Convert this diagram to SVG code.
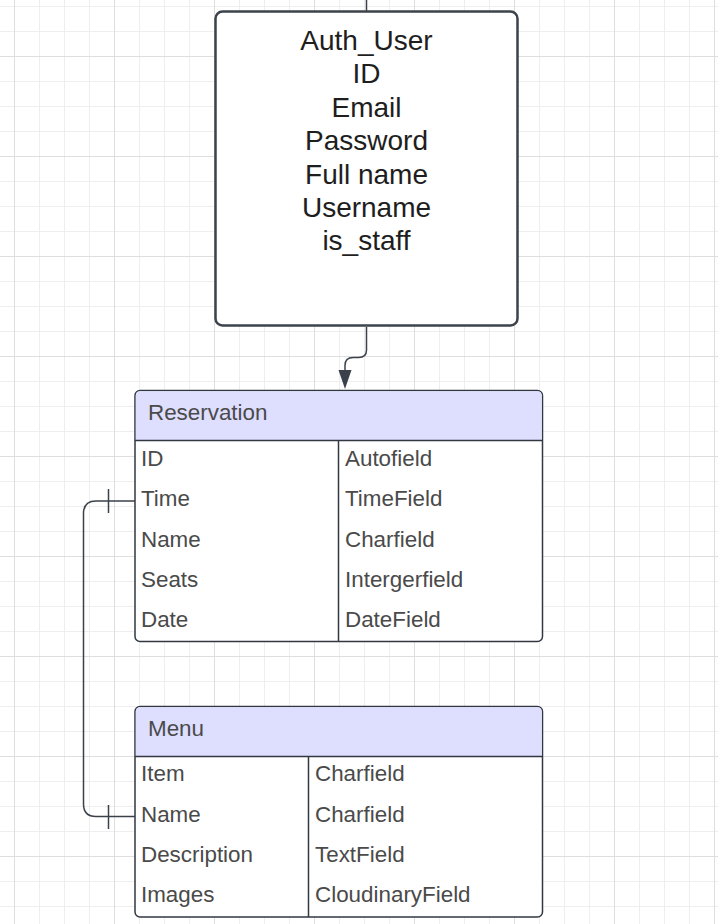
<svg xmlns="http://www.w3.org/2000/svg" width="718" height="924" viewBox="0 0 718 924">
<style>
.auth{font-family:"Liberation Sans",Arial,sans-serif;font-size:28px;fill:#1e1e1e;text-anchor:middle}
.t{font-family:"Liberation Sans",Arial,sans-serif;font-size:22.4px;fill:#4a4a4a}
.box{fill:#ffffff;stroke:#323842;stroke-width:1.5}
.hdr{fill:#dedeff}
.ln{fill:none;stroke:#323842;stroke-width:1.5}
.conn{fill:none;stroke:#3a414a;stroke-width:1.5}
</style>
<defs>
<pattern id="minor" width="25" height="25" patternUnits="userSpaceOnUse" x="14" y="6">
<path d="M0.5 0V25M0 0.5H25" stroke="#eeeeee" stroke-width="1" fill="none"/>
</pattern>
<pattern id="major" width="100" height="100" patternUnits="userSpaceOnUse" x="14" y="56">
<path d="M0.5 0V100M0 0.5H100" stroke="#dedede" stroke-width="1" fill="none"/>
</pattern>
</defs>
<rect width="718" height="924" fill="#ffffff"/>
<rect width="718" height="924" fill="url(#minor)"/>
<rect width="718" height="924" fill="url(#major)"/>

<g id="connectors">
<path class="conn" d="M366.5 0V11"/>
<path class="conn" d="M366.5 327V350Q366.5 357.5 358.5 357.5H353Q345 357.5 345 365.5V372"/>
<polygon points="345,389 338.5,370 351.5,370" fill="#3a414a"/>
<path class="conn" d="M135 501H96Q83.5 501 83.5 513.5V804Q83.5 816.5 96 816.5H135"/>
<path class="conn" d="M108.5 489V513M108.5 805V829"/>
</g>

<g id="auth_user">
<rect x="215.5" y="11.5" width="302" height="314" rx="7" fill="#ffffff" stroke="#3d434b" stroke-width="2.5"/>
<text class="auth" x="366.5" y="49.5">Auth_User</text>
<text class="auth" x="366.5" y="83">ID</text>
<text class="auth" x="366.5" y="116.5">Email</text>
<text class="auth" x="366.5" y="150">Password</text>
<text class="auth" x="366.5" y="183.5">Full name</text>
<text class="auth" x="366.5" y="217">Username</text>
<text class="auth" x="366.5" y="250">is_staff</text>
</g>

<g id="reservation">
<rect class="box" x="135" y="390.5" width="407.5" height="251" rx="5"/>
<path class="hdr" d="M140 391.2H537.5Q541.8 391.2 541.8 395.5V440H135.8V395.5Q135.8 391.2 140 391.2Z"/>
<path class="ln" d="M135 440.5H542.5M338.5 440.5V641.5"/>
<text class="t" x="148" y="420">Reservation</text>
<text class="t" x="141" y="466">ID</text>
<text class="t" x="141" y="506">Time</text>
<text class="t" x="141" y="546.5">Name</text>
<text class="t" x="141" y="587">Seats</text>
<text class="t" x="141" y="627">Date</text>
<text class="t" x="345" y="466">Autofield</text>
<text class="t" x="345" y="506">TimeField</text>
<text class="t" x="345" y="546.5">Charfield</text>
<text class="t" x="345" y="587">Intergerfield</text>
<text class="t" x="345" y="627">DateField</text>
</g>

<g id="menu">
<rect class="box" x="135" y="706.5" width="407.5" height="210.5" rx="5"/>
<path class="hdr" d="M140 707.2H537.5Q541.8 707.2 541.8 711.5V756H135.8V711.5Q135.8 707.2 140 707.2Z"/>
<path class="ln" d="M135 756.5H542.5M308.5 756.5V917"/>
<text class="t" x="148" y="736">Menu</text>
<text class="t" x="141" y="781">Item</text>
<text class="t" x="141" y="821.5">Name</text>
<text class="t" x="141" y="862">Description</text>
<text class="t" x="141" y="902">Images</text>
<text class="t" x="315" y="781">Charfield</text>
<text class="t" x="315" y="821.5">Charfield</text>
<text class="t" x="315" y="862">TextField</text>
<text class="t" x="315" y="902">CloudinaryField</text>
</g>
</svg>
